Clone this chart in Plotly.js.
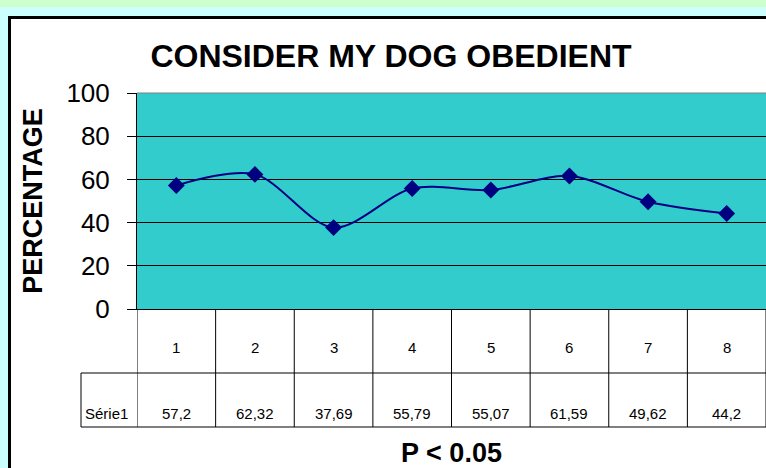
<!DOCTYPE html>
<html>
<head>
<meta charset="utf-8">
<script src="https://cdn.plot.ly/plotly-3.0.1.min.js"></script>
<style>
  html, body { margin: 0; padding: 0; }
  #chart { width: 766px; height: 468px; }
</style>
</head>
<body>
<div id="chart"></div>
<script>
// Données du graphique
const categories = ['1', '2', '3', '4', '5', '6', '7', '8'];
const values = [57.2, 62.32, 37.69, 55.79, 55.07, 61.59, 49.62, 44.2];
const seriesName = 'Série1';
const yTicks = [0, 20, 40, 60, 80, 100];

const W = 766, H = 468;
const L = 137, T = 93, R = 0, B = 159;
const PW = W - L - R, PH = H - T - B;
const FONT = 'Liberation Sans, Arial, sans-serif';
const NAVY = '#000080';

// conversion pixels -> coordonnées papier (zone de tracé)
function px(x) { return (x - L) / PW; }
function py(y) { return (H - B - y) / PH; }

const xs = categories.map((c, i) => i + 1);

let trace = {
    x: xs,
    y: values,
    type: 'scatter',
    mode: 'lines+markers',
    name: seriesName,
    line: { color: NAVY, width: 2, shape: 'spline', smoothing: 0.9 },
    marker: { symbol: 'diamond', size: 13, color: NAVY }
};

// fond et cadre
let shapes = [
    { type: 'rect', xref: 'paper', yref: 'paper', x0: px(0), x1: px(9), y0: py(H), y1: py(0), fillcolor: '#ccffff', line: { width: 0 }, layer: 'below' },
    { type: 'rect', xref: 'paper', yref: 'paper', x0: px(0), x1: px(W), y0: py(16), y1: py(0), fillcolor: '#ccffff', line: { width: 0 }, layer: 'below' },
    { type: 'rect', xref: 'paper', yref: 'paper', x0: px(0), x1: px(W), y0: py(7), y1: py(0), fillcolor: '#ccffcc', line: { width: 0 }, layer: 'below' },
    { type: 'line', xref: 'paper', yref: 'paper', x0: px(9.5), x1: px(9.5), y0: py(16), y1: py(H), line: { color: 'black', width: 3 } },
    { type: 'line', xref: 'paper', yref: 'paper', x0: px(8), x1: px(W), y0: py(17.5), y1: py(17.5), line: { color: 'black', width: 3 } },
    // bord supérieur gris de la zone de tracé
    { type: 'line', xref: 'paper', yref: 'paper', x0: 0, x1: 1, y0: 1, y1: 1, line: { color: '#808080', width: 1 } },
    // tableau de données
    { type: 'line', xref: 'paper', yref: 'paper', x0: px(81), x1: px(W), y0: py(373), y1: py(373), line: { color: 'black', width: 1 } },
    { type: 'line', xref: 'paper', yref: 'paper', x0: px(81), x1: px(W), y0: py(427), y1: py(427), line: { color: 'black', width: 1 } },
    { type: 'line', xref: 'paper', yref: 'paper', x0: px(81), x1: px(81), y0: py(373), y1: py(427), line: { color: 'black', width: 1 } }
];
for (let i = 0; i <= categories.length; i++) {
    shapes.push({ type: 'line', xref: 'x', yref: 'paper', x0: i + 0.5, x1: i + 0.5, y0: py(309), y1: py(427), line: { color: 'black', width: 1 } });
}

let cellFont = { family: FONT, size: 15, color: 'black' };
let annotations = [];
categories.forEach((c, i) => {
    annotations.push({ x: xs[i], xref: 'x', y: py(347), yref: 'paper', xanchor: 'center', yanchor: 'middle', text: c, showarrow: false, font: cellFont });
    annotations.push({ x: xs[i], xref: 'x', y: py(413), yref: 'paper', xanchor: 'center', yanchor: 'middle', text: String(values[i]).replace('.', ','), showarrow: false, font: cellFont });
});
annotations.push({ x: px(106), xref: 'paper', y: py(413), yref: 'paper', xanchor: 'center', yanchor: 'middle', text: seriesName, showarrow: false, font: cellFont });

let layout = {
    width: W,
    height: H,
    margin: { l: L, r: R, t: T, b: B, pad: 0 },
    paper_bgcolor: 'white',
    plot_bgcolor: '#33cccc',
    showlegend: false,
    title: {
        text: '<b>CONSIDER MY DOG OBEDIENT</b>',
        font: { family: FONT, size: 32, color: 'black' },
        x: 391 / W, xref: 'container', xanchor: 'center',
        y: 1 - 56 / H, yref: 'container', yanchor: 'middle'
    },
    xaxis: {
        range: [0.5, 8.5],
        showgrid: false,
        zeroline: false,
        showticklabels: false,
        ticks: '',
        showline: true,
        linecolor: 'black',
        linewidth: 1,
        fixedrange: true,
        title: { text: '<b>P < 0.05</b>', font: { family: FONT, size: 27, color: 'black' }, standoff: 134 }
    },
    yaxis: {
        range: [0, 100],
        tickvals: yTicks,
        ticktext: yTicks.map(String),
        showgrid: true,
        gridcolor: 'black',
        gridwidth: 1,
        zeroline: false,
        showline: true,
        linecolor: 'black',
        linewidth: 1,
        ticks: 'outside',
        ticklen: 9,
        tickcolor: 'black',
        ticklabelstandoff: 12,
        tickfont: { family: FONT, size: 26, color: 'black' },
        fixedrange: true,
        title: { text: '<b>PERCENTAGE</b>', font: { family: FONT, size: 27, color: 'black' }, standoff: 15 }
    },
    shapes: shapes,
    annotations: annotations
};

Plotly.newPlot('chart', [trace], layout, { displayModeBar: false, staticPlot: true });
</script>
</body>
</html>
